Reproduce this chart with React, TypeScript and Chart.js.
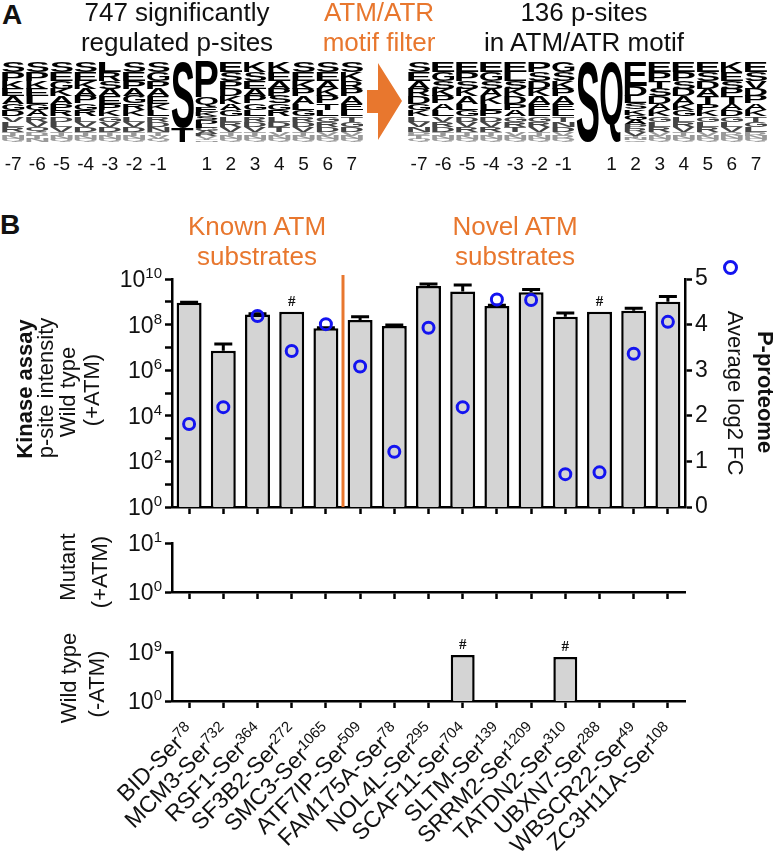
import React, { useEffect, useRef } from 'react';
import { Chart, registerables } from 'chart.js';

Chart.register(...registerables);
Chart.defaults.font.family = '"Liberation Sans", Arial, sans-serif';
Chart.defaults.color = '#111';

// ---------------- DATA ----------------
const proteins = ['BID', 'MCM3', 'RSF1', 'SF3B2', 'SMC3', 'ATF7IP', 'FAM175A', 'NOL4L', 'SCAF11', 'SLTM', 'SRRM2', 'TATDN2', 'UBXN7', 'WBSCR22', 'ZC3H11A'];
const serSites = ['78', '732', '364', '272', '1065', '509', '78', '295', '704', '139', '1209', '310', '288', '49', '108'];
const knownCount = 5;

const wtPlusATM = [9.0e8, 7.2e6, 2.8e8, 3.7e8, 6.9e7, 1.6e8, 8.7e7, 4.9e9, 2.8e9, 6.6e8, 2.6e9, 2.2e8, 3.7e8, 4.1e8, 1.0e9];
const wtPlusATMErr = [9.6e8, 1.4e7, 3.0e8, null, 7.3e7, 2.2e8, 9.5e7, 6.0e9, 5.5e9, 7.0e8, 3.5e9, 3.2e8, null, 5.2e8, 1.7e9];
const wtPlusHash = [false, false, false, true, false, false, false, false, false, false, false, false, true, false, false];
const pProteomeLog2FC = [1.82, 2.19, 4.19, 3.42, 4.01, 3.08, 1.21, 3.93, 2.19, 4.55, 4.54, 0.72, 0.76, 3.36, 4.06];
const mutantPlusATM = [null, null, null, null, null, null, null, null, null, null, null, null, null, null, null];
const wtMinusATM = [null, null, null, null, null, null, null, null, 2.8e8, null, null, 1.2e8, null, null, null];
const wtMinusHash = [false, false, false, false, false, false, false, false, true, false, false, true, false, false, false];

const topTickExps = [0, 1, 2, 3, 4, 5, 6, 7, 8, 9, 10];
const topLabelExps = [0, 2, 4, 6, 8, 10];
const midTickExps = [0, 1];
const botTickExps = [0, 9];
const rightTicks = [0, 1, 2, 3, 4, 5];

const logoPositions = ['-7', '-6', '-5', '-4', '-3', '-2', '-1', '', '1', '2', '3', '4', '5', '6', '7'];
const logoProfile = [0.13, 0.11, 0.1, 0.09, 0.09, 0.08, 0.08, 0.07, 0.06, 0.06, 0.05, 0.04, 0.04];
const leftLogoLetters = ['SPKEAGDVLRTNQ', 'SPKELGARVQDTN', 'SEGKAPRDLVTNQ', 'SEKAPGRLVDTNQ', 'LRSAEPKGVDTNQ', 'SEPAGRKLVDTNQ', 'SGPAEKLRDNTVQ', 'ST', 'PQEKSDLGARVTN', 'ESPDKAGLRVTNQ', 'KSEAPGLRDVTNQ', 'KEAPSGRLDTVNQ', 'SEKPALGRDVTNQ', 'SEAKPTLGRDVNQ', 'SKRPAELTGDVNQ'];
const leftLogoShares = [logoProfile, logoProfile, logoProfile, logoProfile, logoProfile, logoProfile, logoProfile, [0.82, 0.18], [0.45, 0.12, 0.06, 0.05, 0.05, 0.05, 0.04, 0.04, 0.04, 0.03, 0.03, 0.02, 0.02], logoProfile, logoProfile, logoProfile, logoProfile, logoProfile, logoProfile];
const rightLogoLetters = ['SEARDGKLVNPTQ', 'EGSKPALVRDTNQ', 'EPSKALGDVRTNQ', 'EGSAKLPDVRTNQ', 'ELSKDPAGRTVNQ', 'PSDKAELGRVTNQ', 'GSKPAELTNDVRQ', 'S', 'Q', 'EDLSKGAPRVTNQ', 'EPTSDAKGLRVNQ', 'EPSDAKGLRVTNQ', 'ESDATPKGLRVNQ', 'KESPTADGLVRNQ', 'ESVDPAKTGLRNQ'];
const rightLogoShares = [logoProfile, logoProfile, logoProfile, logoProfile, logoProfile, logoProfile, logoProfile, [1], [1], [0.3, 0.12, 0.09, 0.08, 0.07, 0.06, 0.06, 0.05, 0.05, 0.04, 0.03, 0.03, 0.02], logoProfile, logoProfile, logoProfile, logoProfile, logoProfile];

// ---------------- STYLE ----------------
const ORANGE = '#E8772E';
const BLUE = '#1414F0';
const BAR_FILL = '#D4D4D4';
const FONT = '"Liberation Sans", Arial, sans-serif';

function logAxis(tickExps: number[], max: number) {
  return {
    type: 'logarithmic',
    position: 'left',
    min: 1,
    max,
    afterBuildTicks: (s: any) => {
      s.ticks = tickExps.map((e) => ({ value: Math.pow(10, e) }));
    },
    afterFit: (s: any) => {
      s.width = 172;
    },
    ticks: { display: false, autoSkip: false },
    grid: { drawOnChartArea: false, drawTicks: true, tickLength: 7, tickWidth: 2.5, tickColor: '#000' },
    border: { display: true, color: '#000', width: 2.5 },
  };
}

function catAxis(height: number) {
  return {
    type: 'category',
    offset: true,
    afterFit: (s: any) => {
      s.height = height;
    },
    ticks: { display: false, autoSkip: false },
    grid: { offset: false, drawOnChartArea: false, drawTicks: true, tickLength: 7, tickWidth: 2.5, tickColor: '#000' },
    border: { display: true, color: '#000', width: 2.5 },
  };
}

// y tick labels 10^n with real superscripts
function yLabelPlugin(labelExps: number[]) {
  return {
    id: 'yLabels',
    afterDraw(chart: any) {
      const ctx = chart.ctx;
      const y = chart.scales.y;
      const right = chart.chartArea.left - 10;
      ctx.save();
      ctx.fillStyle = '#111';
      ctx.textBaseline = 'alphabetic';
      ctx.textAlign = 'left';
      labelExps.forEach((e) => {
        const py = y.getPixelForValue(Math.pow(10, e));
        ctx.font = `15px ${FONT}`;
        const es = String(e);
        const ws = ctx.measureText(es).width;
        ctx.font = `23px ${FONT}`;
        const wb = ctx.measureText('10').width;
        ctx.fillText('10', right - ws - wb, py + 8);
        ctx.font = `15px ${FONT}`;
        ctx.fillText(es, right - ws, py - 1);
      });
      ctx.restore();
    },
  };
}

// rotated x labels with superscript site numbers
const xLabelPlugin = {
  id: 'xLabels',
  afterDraw(chart: any) {
    const ctx = chart.ctx;
    const x = chart.scales.x;
    const baseY = chart.chartArea.bottom + 32;
    ctx.save();
    ctx.fillStyle = '#111';
    ctx.textBaseline = 'alphabetic';
    ctx.textAlign = 'left';
    proteins.forEach((p, i) => {
      const px = x.getPixelForValue(i) + 7;
      const base = p + '-Ser';
      const s = serSites[i];
      ctx.font = `15px ${FONT}`;
      const ws = ctx.measureText(s).width;
      ctx.font = `23px ${FONT}`;
      const wb = ctx.measureText(base).width;
      ctx.save();
      ctx.translate(px, baseY);
      ctx.rotate(-Math.PI / 4);
      ctx.fillText(base, -ws - wb, 0);
      ctx.font = `15px ${FONT}`;
      ctx.fillText(s, -ws, -8);
      ctx.restore();
    });
    ctx.restore();
  },
};

function hashPlugin(flags: boolean[]) {
  return {
    id: 'hash',
    afterDatasetsDraw(chart: any) {
      const ctx = chart.ctx;
      const meta = chart.getDatasetMeta(0);
      ctx.save();
      ctx.fillStyle = '#111';
      ctx.font = 'bold 15px "Liberation Serif", serif';
      ctx.textAlign = 'center';
      ctx.textBaseline = 'alphabetic';
      meta.data.forEach((bar: any, i: number) => {
        if (!flags[i]) return;
        ctx.fillText('#', bar.x, bar.y - 6);
      });
      ctx.restore();
    },
  };
}

const topDecor = {
  id: 'topDecor',
  afterDatasetDraw(chart: any, args: any) {
    if (args.index !== 0) return;
    const ctx = chart.ctx;
    const y = chart.scales.y;
    const meta = chart.getDatasetMeta(0);
    ctx.save();
    ctx.strokeStyle = '#000';
    ctx.lineWidth = 3;
    meta.data.forEach((bar: any, i: number) => {
      const err = wtPlusATMErr[i];
      if (err == null) return;
      const yt = y.getPixelForValue(err);
      const hw = bar.width * 0.36;
      ctx.beginPath();
      ctx.moveTo(bar.x, bar.y);
      ctx.lineTo(bar.x, yt);
      ctx.moveTo(bar.x - hw, yt);
      ctx.lineTo(bar.x + hw, yt);
      ctx.stroke();
    });
    ctx.restore();
  },
  afterDatasetsDraw(chart: any) {
    const ctx = chart.ctx;
    const x = chart.scales.x;
    const sx = (x.getPixelForValue(knownCount - 1) + x.getPixelForValue(knownCount)) / 2;
    ctx.save();
    ctx.strokeStyle = ORANGE;
    ctx.lineWidth = 3;
    ctx.beginPath();
    ctx.moveTo(sx, chart.chartArea.top - 4);
    ctx.lineTo(sx, chart.chartArea.bottom);
    ctx.stroke();
    ctx.restore();
  },
};

function logoPlugin(letters: string[]) {
  return {
    id: 'logo',
    afterDatasetsDraw(chart: any) {
      const ctx = chart.ctx;
      chart.data.datasets.forEach((ds: any, d: number) => {
        const rank = ds.rank;
        const meta = chart.getDatasetMeta(d);
        meta.data.forEach((bar: any, i: number) => {
          const ch = letters[i][rank];
          if (!ch) return;
          const top = Math.min(bar.y, bar.base);
          const h = Math.abs(bar.base - bar.y);
          if (h < 0.4) return;
          const w = bar.width;
          ctx.save();
          ctx.font = 'bold 100px "Liberation Sans", Arial, sans-serif';
          ctx.textAlign = 'left';
          ctx.textBaseline = 'alphabetic';
          const m = ctx.measureText(ch);
          const gw = m.actualBoundingBoxLeft + m.actualBoundingBoxRight;
          const gh = m.actualBoundingBoxAscent + m.actualBoundingBoxDescent;
          ctx.fillStyle = rank < 7 ? '#000' : rank < 10 ? '#444' : '#999';
          ctx.translate(bar.x - w / 2, top);
          ctx.scale(w / gw, h / gh);
          ctx.fillText(ch, m.actualBoundingBoxLeft, m.actualBoundingBoxAscent);
          ctx.restore();
        });
      });
    },
  };
}

function logoConfig(letters: string[], shares: number[][], padL: number, padR: number) {
  const maxRank = Math.max(...letters.map((s) => s.length));
  const datasets: any[] = [];
  for (let r = maxRank - 1; r >= 0; r--) {
    datasets.push({
      rank: r,
      data: shares.map((s, i) => (letters[i][r] ? s[r] ?? 0 : 0)),
      backgroundColor: 'rgba(0,0,0,0)',
      borderWidth: 0,
      categoryPercentage: 1,
      barPercentage: 0.92,
    });
  }
  return {
    type: 'bar',
    data: { labels: logoPositions, datasets },
    options: {
      responsive: false,
      animation: false,
      events: [],
      layout: { padding: { top: 7, left: padL, right: padR, bottom: 0 } },
      plugins: { legend: { display: false }, tooltip: { enabled: false } },
      scales: {
        x: {
          stacked: true,
          afterFit: (s: any) => {
            s.height = 28;
          },
          grid: { display: false },
          border: { display: false },
          ticks: { color: '#111', padding: 3, font: { size: 19 }, autoSkip: false, maxRotation: 0, minRotation: 0 },
        },
        y: { stacked: true, display: false, min: 0, max: 1 },
      },
    },
    plugins: [logoPlugin(letters)],
  };
}

function topConfig() {
  return {
    type: 'bar',
    data: {
      labels: proteins,
      datasets: [
        {
          type: 'bar',
          data: wtPlusATM,
          backgroundColor: BAR_FILL,
          borderColor: '#000',
          borderWidth: 2.5,
          categoryPercentage: 1,
          barPercentage: 0.73,
          yAxisID: 'y',
          order: 1,
        },
        {
          type: 'line',
          data: pProteomeLog2FC,
          showLine: false,
          pointRadius: 5.5,
          pointBorderWidth: 3,
          pointBackgroundColor: 'rgba(0,0,0,0)',
          pointBorderColor: BLUE,
          yAxisID: 'y2',
          order: 0,
        },
      ],
    },
    options: {
      responsive: false,
      animation: false,
      events: [],
      layout: { padding: { top: 29, left: 0, right: 0, bottom: 0 } },
      plugins: { legend: { display: false }, tooltip: { enabled: false } },
      scales: {
        x: catAxis(18),
        y: logAxis(topTickExps, 1e10),
        y2: {
          type: 'linear',
          position: 'right',
          min: 0,
          max: 5,
          afterBuildTicks: (s: any) => {
            s.ticks = rightTicks.map((v) => ({ value: v }));
          },
          afterFit: (s: any) => {
            s.width = 92;
          },
          ticks: { padding: 3, color: '#111', font: { size: 23 } },
          grid: { drawOnChartArea: false, drawTicks: true, tickLength: 7, tickWidth: 2.5, tickColor: '#000' },
          border: { display: true, color: '#000', width: 2.5 },
        },
      },
    },
    plugins: [topDecor, hashPlugin(wtPlusHash), yLabelPlugin(topLabelExps)],
  };
}

function smallConfig(values: (number | null)[], flags: boolean[], tickExps: number[], max: number, padTop: number, xHeight: number, showLabels: boolean) {
  const plugins: any[] = [hashPlugin(flags), yLabelPlugin(tickExps)];
  if (showLabels) plugins.push(xLabelPlugin);
  return {
    type: 'bar',
    data: {
      labels: proteins,
      datasets: [
        {
          data: values,
          backgroundColor: BAR_FILL,
          borderColor: '#000',
          borderWidth: 2.5,
          categoryPercentage: 1,
          barPercentage: 0.7,
        },
      ],
    },
    options: {
      responsive: false,
      animation: false,
      events: [],
      layout: { padding: { top: padTop, left: 0, right: 92, bottom: 0 } },
      plugins: { legend: { display: false }, tooltip: { enabled: false } },
      scales: {
        x: catAxis(xHeight),
        y: logAxis(tickExps, max),
      },
    },
    plugins,
  };
}

function ChartBox({ left, top, width, height, make }: { left: number; top: number; width: number; height: number; make: () => any }) {
  const ref = useRef<HTMLCanvasElement | null>(null);
  useEffect(() => {
    const chart = new Chart(ref.current as HTMLCanvasElement, make());
    return () => chart.destroy();
  }, []);
  return (
    <div style={{ position: 'absolute', left, top, width, height }}>
      <canvas ref={ref} width={width} height={height} style={{ display: 'block', width, height }} />
    </div>
  );
}

function Txt({ x, y, children, size = 22, color = '#111', weight = 400, rot = 0, lh }: any) {
  return (
    <div
      style={{
        position: 'absolute',
        left: x,
        top: y,
        transform: `translate(-50%, -50%) rotate(${rot}deg)`,
        fontSize: size,
        color,
        fontWeight: weight,
        whiteSpace: 'nowrap',
        lineHeight: lh ? `${lh}px` : 1,
        textAlign: 'center',
        fontFamily: FONT,
      }}
    >
      {children}
    </div>
  );
}

export default function App() {
  return (
    <div style={{ position: 'absolute', left: 0, top: 0, width: 777, height: 853, overflow: 'hidden', background: '#fff', fontFamily: FONT }}>
      <ChartBox left={0} top={55} width={372} height={115} make={() => logoConfig(leftLogoLetters, leftLogoShares, 1, 8)} />
      <ChartBox left={400} top={55} width={377} height={115} make={() => logoConfig(rightLogoLetters, rightLogoShares, 7, 9)} />
      <ChartBox left={0} top={250} width={777} height={275} make={topConfig} />
      <ChartBox left={0} top={525} width={777} height={80} make={() => smallConfig(mutantPlusATM, mutantPlusATM.map(() => false), midTickExps, 10, 18, 13, false)} />
      <ChartBox left={0} top={605} width={777} height={248} make={() => smallConfig(wtMinusATM, wtMinusHash, botTickExps, 1e9, 47, 152, true)} />

      {/* Panel A */}
      <Txt x={12} y={15} size={28} weight={700}>A</Txt>
      <Txt x={177} y={27} size={26} lh={30}>747 significantly<br />regulated p-sites</Txt>
      <Txt x={379} y={27} size={26} lh={30} color={ORANGE}>ATM/ATR<br />motif filter</Txt>
      <Txt x={584} y={27} size={26} lh={30}>136 p-sites<br />in ATM/ATR motif</Txt>
      <svg style={{ position: 'absolute', left: 360, top: 58, width: 50, height: 90 }} width={50} height={90}>
        <polygon points="7,32 18,32 18,5 42,43 18,82 18,55 7,55" fill={ORANGE} />
      </svg>

      {/* Panel B */}
      <Txt x={10} y={225} size={28} weight={700}>B</Txt>
      <Txt x={257} y={241} size={26} lh={30} color={ORANGE}>Known ATM<br />substrates</Txt>
      <Txt x={515} y={241} size={26} lh={30} color={ORANGE}>Novel ATM<br />substrates</Txt>

      <Txt x={25} y={389} size={22} weight={700} rot={-90}>Kinase assay</Txt>
      <Txt x={46} y={388} size={22} rot={-90}>p-site intensity</Txt>
      <Txt x={68} y={392} size={22} rot={-90}>Wild type</Txt>
      <Txt x={92} y={390} size={22} rot={-90}>(+ATM)</Txt>

      <Txt x={68} y={567} size={22} rot={-90}>Mutant</Txt>
      <Txt x={100} y={572} size={22} rot={-90}>(+ATM)</Txt>
      <Txt x={69} y={678} size={22} rot={-90}>Wild type</Txt>
      <Txt x={97} y={684} size={22} rot={-90}>(-ATM)</Txt>

      <div style={{ position: 'absolute', left: 723, top: 260, width: 15, height: 15, boxSizing: 'border-box', border: `3px solid ${BLUE}`, borderRadius: '50%' }} />
      <Txt x={735} y={393} size={22} rot={90}>Average log2 FC</Txt>
      <Txt x={765} y={392} size={22} weight={700} rot={90}>P-proteome</Txt>
    </div>
  );
}
